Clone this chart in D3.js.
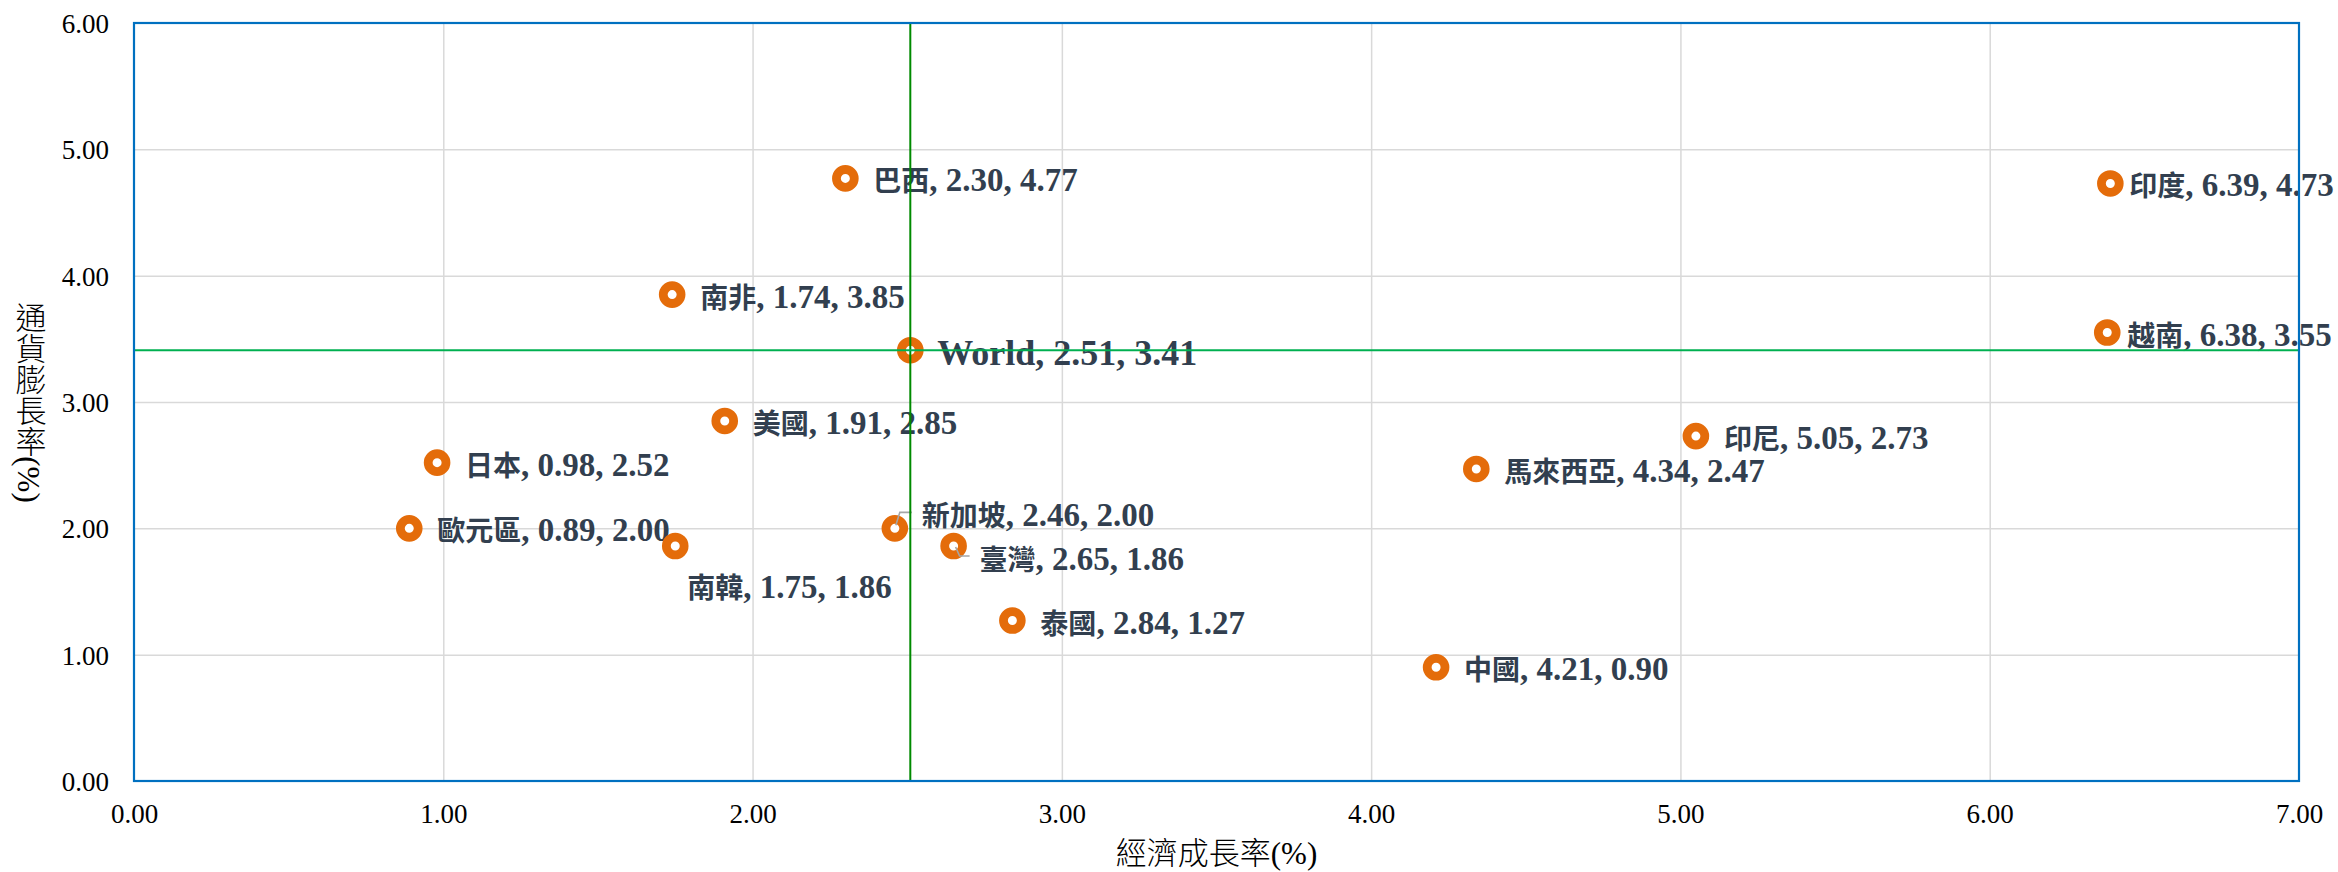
<!DOCTYPE html>
<html>
<head>
<meta charset="utf-8">
<script src="https://cdn.jsdelivr.net/npm/d3@7"></script>
<style>
  html, body { margin: 0; padding: 0; background: #ffffff; }
  svg { display: block; }
</style>
</head>
<body>
<svg id="chart" width="2338" height="872"></svg>
<script>
// Economic growth vs. inflation, selected economies (%)
const names     = ["巴西", "南非", "World", "美國", "日本", "歐元區", "南韓", "新加坡", "臺灣", "泰國", "中國", "馬來西亞", "印尼", "印度", "越南"];
const growth    = [2.30, 1.74, 2.51, 1.91, 0.98, 0.89, 1.75, 2.46, 2.65, 2.84, 4.21, 4.34, 5.05, 6.39, 6.38];
const inflation = [4.77, 3.85, 3.41, 2.85, 2.52, 2.00, 1.86, 2.00, 1.86, 1.27, 0.90, 2.47, 2.73, 4.73, 3.55];
const xTicks = [0, 1, 2, 3, 4, 5, 6, 7];
const yTicks = [0, 1, 2, 3, 4, 5, 6];
const referenceName = "World";
const xTitle = "經濟成長率(%)";
const yTitle = "通貨膨長率(%)";

// label placement relative to each marker: [dx, baseline dy]
const labelShift = {
  "World": [27, 15],
  "南韓": [12, 52],
  "新加坡": [27, -2],
  "臺灣": [26, 24],
  "印度": [19, 13],
  "越南": [20, 13]
};
const defaultShift = [28, 13];
// leader lines (relative to the marker centre)
const leaders = {
  "新加坡": [[1, -3], [5, -16], [17, -16]],
  "臺灣": [[2, 1], [6, 10], [16, 10]]
};

const points = names.map((n, i) => ({ name: n, x: growth[i], y: inflation[i] }));

const plot = { left: 134, right: 2299, top: 23, bottom: 781 };
const xScale = d3.scaleLinear().domain([0, 7]).range([plot.left, plot.right]);
const yScale = d3.scaleLinear().domain([0, 6]).range([plot.bottom, plot.top]);
const fmt = d3.format(".2f");

const svg = d3.select("#chart");
svg.append("rect").attr("width", 2338).attr("height", 872).attr("fill", "#ffffff");

// gridlines
svg.append("g")
  .attr("transform", `translate(0,${plot.bottom})`)
  .call(d3.axisBottom(xScale).tickValues(xTicks.slice(1, -1)).tickSize(-(plot.bottom - plot.top)).tickFormat(""))
  .call(g => g.select(".domain").remove())
  .call(g => g.selectAll("line").attr("stroke", "#d9d9d9").attr("stroke-width", 1.5));
svg.append("g")
  .attr("transform", `translate(${plot.left},0)`)
  .call(d3.axisLeft(yScale).tickValues(yTicks.slice(1, -1)).tickSize(-(plot.right - plot.left)).tickFormat(""))
  .call(g => g.select(".domain").remove())
  .call(g => g.selectAll("line").attr("stroke", "#d9d9d9").attr("stroke-width", 1.5));

// tick labels
const tickFont = "'Liberation Serif', 'Times New Roman', serif";
svg.append("g")
  .attr("transform", `translate(0,${plot.bottom})`)
  .call(d3.axisBottom(xScale).tickValues(xTicks).tickSize(0).tickPadding(23).tickFormat(fmt))
  .call(g => g.select(".domain").remove())
  .call(g => g.selectAll("text").attr("font-family", tickFont).attr("font-size", 27).attr("fill", "#000"));
svg.append("g")
  .attr("transform", `translate(${plot.left},0)`)
  .call(d3.axisLeft(yScale).tickValues(yTicks).tickSize(0).tickPadding(25).tickFormat(fmt))
  .call(g => g.select(".domain").remove())
  .call(g => g.selectAll("text").attr("font-family", tickFont).attr("font-size", 27).attr("fill", "#000").attr("dy", "0.35em"));

// axis titles
const titleFont = "'Liberation Serif', 'Noto Sans CJK TC', serif";
svg.append("text")
  .attr("x", (plot.left + plot.right) / 2)
  .attr("y", 864)
  .attr("text-anchor", "middle")
  .attr("font-family", titleFont)
  .attr("font-size", 31)
  .attr("font-weight", 300)
  .attr("fill", "#000")
  .text(xTitle);
svg.append("text")
  .attr("x", 28)
  .attr("y", (plot.top + plot.bottom) / 2)
  .attr("text-anchor", "middle")
  .style("writing-mode", "vertical-rl")
  .attr("font-family", titleFont)
  .attr("font-size", 31)
  .attr("font-weight", 300)
  .attr("fill", "#000")
  .text(yTitle);

// data labels: name, growth, inflation
const labelFont = "'Liberation Serif', 'Noto Sans CJK TC', serif";
const labels = svg.append("g")
  .selectAll("text")
  .data(points)
  .join("text")
  .attr("x", d => xScale(d.x) + (labelShift[d.name] || defaultShift)[0])
  .attr("y", d => yScale(d.y) + (labelShift[d.name] || defaultShift)[1])
  .attr("font-family", labelFont)
  .attr("font-weight", "bold")
  .attr("font-size", d => d.name === referenceName ? 36 : 33)
  .attr("fill", "#323f4f");
labels.append("tspan")
  .attr("font-size", d => d.name === referenceName ? 36 : 28)
  .text(d => d.name);
labels.append("tspan")
  .text(d => `, ${fmt(d.x)}, ${fmt(d.y)}`);

// markers
svg.append("g")
  .selectAll("circle")
  .data(points)
  .join("circle")
  .attr("cx", d => xScale(d.x))
  .attr("cy", d => yScale(d.y))
  .attr("r", 8.9)
  .attr("fill", "#ffffff")
  .attr("stroke", "#e46c0a")
  .attr("stroke-width", 8.8);

// leader lines
svg.append("g")
  .selectAll("path")
  .data(points.filter(d => leaders[d.name]))
  .join("path")
  .attr("d", d => d3.line()(leaders[d.name].map(([dx, dy]) => [xScale(d.x) + dx, yScale(d.y) + dy])))
  .attr("fill", "none")
  .attr("stroke", "#a6a6a6")
  .attr("stroke-width", 1.6);

// reference cross-hair through the world average
const ref = points.find(d => d.name === referenceName);
svg.append("line")
  .attr("x1", xScale(ref.x)).attr("x2", xScale(ref.x))
  .attr("y1", plot.top).attr("y2", plot.bottom)
  .attr("stroke", "#008a00").attr("stroke-width", 2);
svg.append("line")
  .attr("x1", plot.left).attr("x2", plot.right)
  .attr("y1", yScale(ref.y)).attr("y2", yScale(ref.y))
  .attr("stroke", "#00b050").attr("stroke-width", 2);

// plot frame
svg.append("rect")
  .attr("x", plot.left).attr("y", plot.top)
  .attr("width", plot.right - plot.left).attr("height", plot.bottom - plot.top)
  .attr("fill", "none").attr("stroke", "#0070c0").attr("stroke-width", 2.2);
</script>
</body>
</html>
